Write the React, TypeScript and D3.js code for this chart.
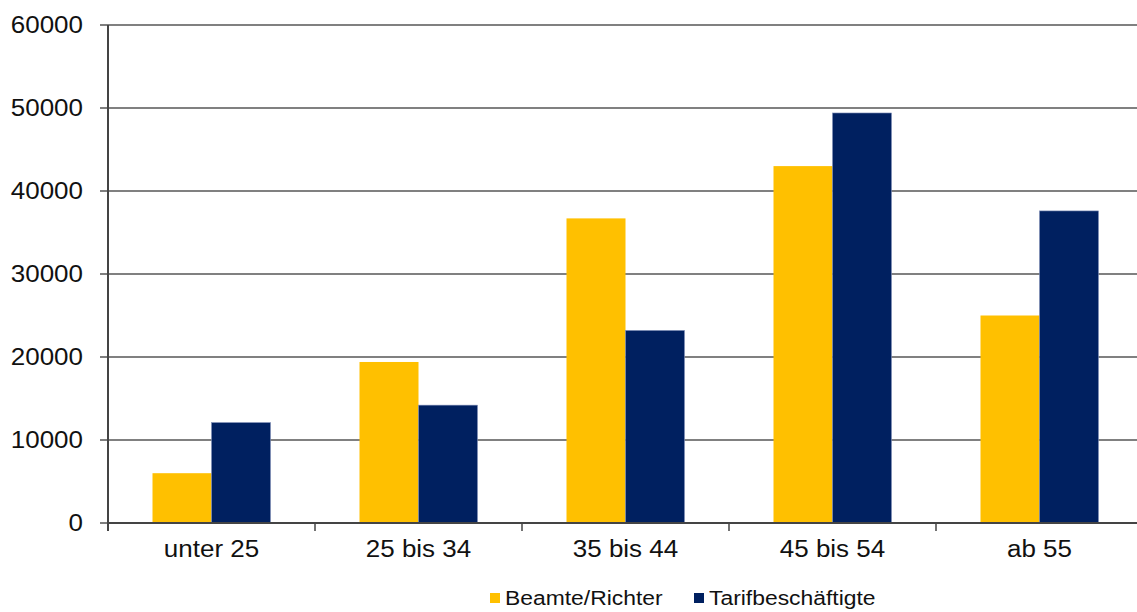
import React from "react";
import * as d3 from "d3";

const categories = ["unter 25", "25 bis 34", "35 bis 44", "45 bis 54", "ab 55"];
const beamte = [6000, 19400, 36700, 43000, 25000];
const tarif = [12100, 14200, 23200, 49400, 37600];
const seriesNames = ["Beamte/Richter", "Tarifbeschäftigte"];
const seriesColors = ["#FFC000", "#002060"];
const yTicks = [0, 10000, 20000, 30000, 40000, 50000, 60000];

const W = 1137;
const H = 612;
const left = 108;
const right = 1143;
const top = 25;
const bottom = 523;
const SX = 1.13;

export default function App() {
  const x = d3.scaleBand<string>().domain(categories).range([left, right]).paddingInner(0).paddingOuter(0);
  const y = d3.scaleLinear().domain([0, 60000]).range([bottom, top]);
  const bw = 59;
  const font = "'Liberation Sans', Arial, sans-serif";
  const series = [beamte, tarif];
  return (
    <svg width={W} height={H} style={{ position: "absolute", left: 0, top: 0, background: "#fff" }} fontFamily={font}>
      {yTicks.map((t) => (
        <g key={t}>
          <line x1={left} x2={W} y1={y(t)} y2={y(t)} stroke="#808080" strokeWidth={2} />
          <line x1={100} x2={left} y1={y(t)} y2={y(t)} stroke="#555" strokeWidth={1.5} />
          <text transform={`translate(83,${y(t)}) scale(${SX},1)`} textAnchor="end" dominantBaseline="central" fontSize={23} fill="#111">
            {t}
          </text>
        </g>
      ))}
      {categories.map((c, i) => {
        const cx = (x(c) as number) + x.bandwidth() / 2;
        return (
          <g key={c}>
            {series.map((s, k) => {
              const bx = cx - bw + k * bw;
              return (
                <rect
                  key={k}
                  x={bx}
                  y={y(s[i])}
                  width={bw}
                  height={bottom - y(s[i])}
                  fill={seriesColors[k]}
                  stroke={k === 1 ? "#8090b8" : "none"}
                  strokeWidth={0.6}
                />
              );
            })}
            <text transform={`translate(${cx},549) scale(${SX},1)`} textAnchor="middle" dominantBaseline="central" fontSize={23} fill="#111">
              {c}
            </text>
          </g>
        );
      })}
      <line x1={left} x2={W} y1={bottom} y2={bottom} stroke="#444" strokeWidth={2} />
      {categories.map((c, i) => (
        <line key={"t" + i} x1={x(c) as number} x2={x(c) as number} y1={bottom} y2={bottom + 8} stroke="#444" strokeWidth={1.5} />
      ))}
      <line x1={left} x2={left} y1={top} y2={bottom + 8} stroke="#444" strokeWidth={2} />
      {seriesNames.map((n, k) => {
        const lx = [490, 694][k];
        return (
          <g key={n}>
            <rect x={lx} y={593} width={10} height={10} fill={seriesColors[k]} />
            <text transform={`translate(${lx + 15},598) scale(1.09,1)`} dominantBaseline="central" fontSize={21} fill="#111">
              {n}
            </text>
          </g>
        );
      })}
    </svg>
  );
}
